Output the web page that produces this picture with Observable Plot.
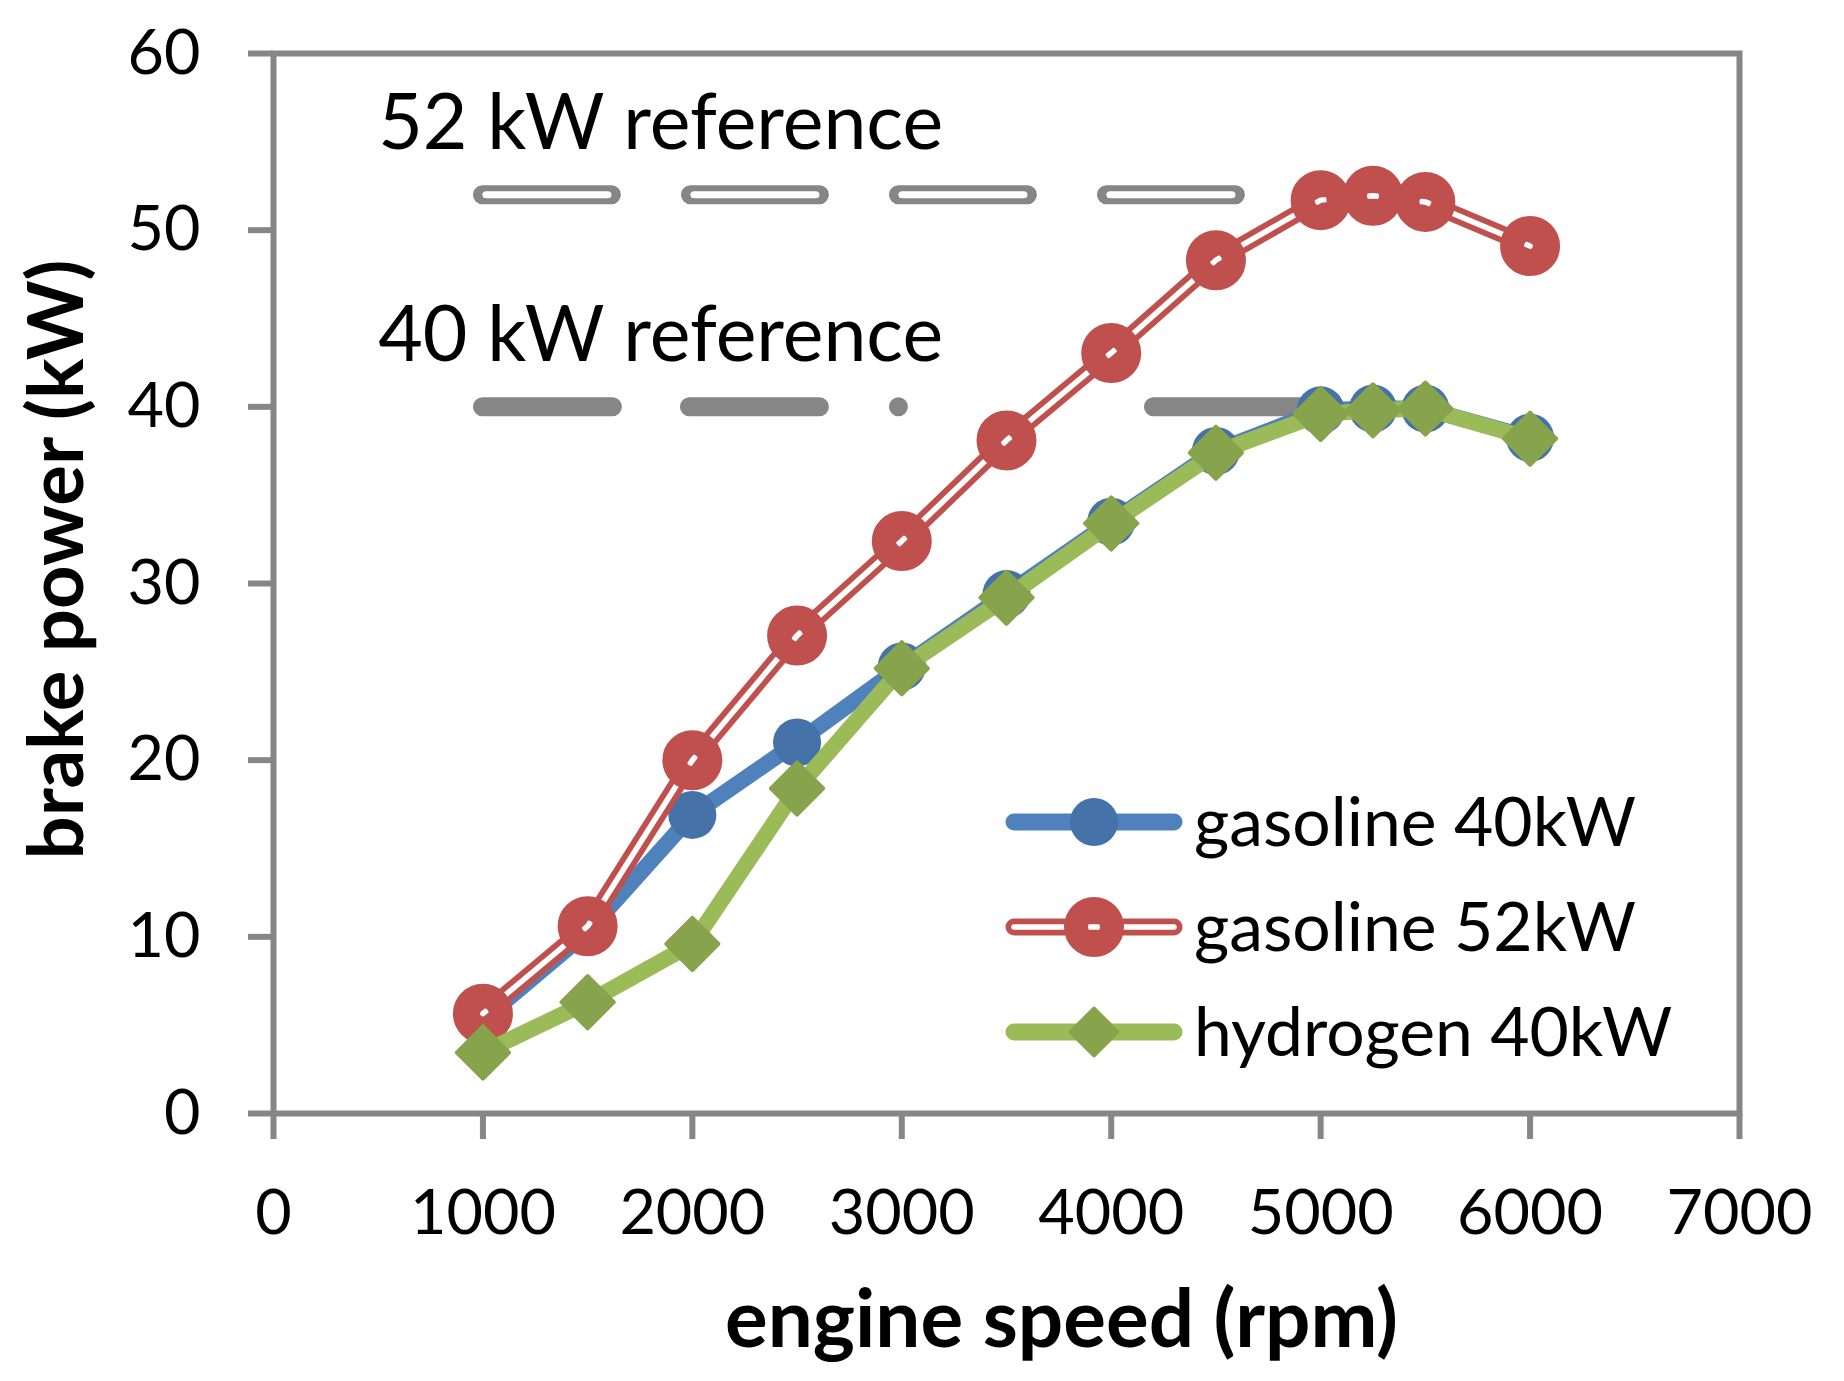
<!DOCTYPE html>
<html>
<head>
<meta charset="utf-8">
<script src="https://cdn.jsdelivr.net/npm/d3@7"></script>
<script src="https://cdn.jsdelivr.net/npm/@observablehq/plot@0.6"></script>
<style>
  html, body { margin: 0; padding: 0; background: #fff; }
  #chart { position: relative; width: 1844px; height: 1381px; }
</style>
</head>
<body>
<div id="chart"></div>
<script>
// ---- data ----
const rpm = [1000, 1500, 2000, 2500, 3000, 3500, 4000, 4500, 5000, 5250, 5500, 6000];
const gasoline40 = [5.3, 10.3, 16.9, 21.0, 25.3, 29.4, 33.5, 37.5, 39.8, 39.9, 39.9, 38.25];
const gasoline52 = [5.65, 10.6, 20.0, 27.05, 32.4, 38.1, 43.05, 48.3, 51.7, 51.95, 51.6, 49.1];
const hydrogen40 = [3.45, 6.3, 9.6, 18.4, 25.2, 29.2, 33.4, 37.4, 39.6, 39.8, 39.9, 38.2];
const seriesNames = ["gasoline 40kW", "gasoline 52kW", "hydrogen 40kW"];
const refLevels = [52, 40];
const refLabels = ["52 kW reference", "40 kW reference"];
const refStart = [1000, 1000];
const refEnd = [5500, 5000];
const xTicks = [0, 1000, 2000, 3000, 4000, 5000, 6000, 7000];
const yTicks = [0, 10, 20, 30, 40, 50, 60];
const xTitle = "engine speed (rpm)";
const yTitle = "brake power (kW)";

// ---- styles ----
const gray = "#868686";
const blue = "#4F81BD", blueMarker = "#4572A9";
const red = "#C0504D";
const green = "#9BBB59", greenMarker = "#87A34C";
const font = "Lato, 'Open Sans', sans-serif";
const labelX = 500, labelOffset = 4;

const table = vals => rpm.map((x, i) => ({x, y: vals[i]}));
const g40 = table(gasoline40), g52 = table(gasoline52), h40 = table(hydrogen40);

const plot = Plot.plot({
  width: 1844,
  height: 1381,
  marginLeft: 273,
  marginRight: 105,
  marginTop: 53,
  marginBottom: 268,
  style: {fontFamily: font, background: "#fff", overflow: "visible", color: "#000"},
  x: {domain: [0, 7000]},
  y: {domain: [0, 60]},
  marks: [
    // reference lines (under the series)
    Plot.ruleY([refLevels[0]], {x1: () => refStart[0], x2: () => refEnd[0], stroke: gray, strokeWidth: 19,
      strokeLinecap: "round", strokeDasharray: "129,79"}),
    Plot.ruleY([refLevels[0]], {x1: () => refStart[0], x2: () => refEnd[0], stroke: "#fff", strokeWidth: 7,
      strokeLinecap: "round", strokeDasharray: "122,86", strokeDashoffset: -3.5}),
    Plot.ruleY([refLevels[1]], {x1: () => refStart[1], x2: () => refEnd[1], stroke: gray, strokeWidth: 19,
      strokeLinecap: "round", strokeDasharray: "130,77,130,79,0,255,160,1000"}),
    // frame & axes
    Plot.frame({stroke: gray, strokeWidth: 6}),
    Plot.axisX({ticks: xTicks, tickSize: 26, tickPadding: 50, stroke: gray, strokeWidth: 6, fill: "#000",
      fontSize: 66, label: null, tickFormat: d3.format("d"), ariaLabel: "x-axis"}),
    Plot.axisY({ticks: yTicks, tickSize: 25, tickPadding: 48, stroke: gray, strokeWidth: 6, fill: "#000",
      fontSize: 66, label: null, tickFormat: d3.format("d"), ariaLabel: "y-axis"}),
    // gasoline 40kW
    Plot.line(g40, {x: "x", y: "y", stroke: blue, strokeWidth: 16, strokeLinejoin: "round", strokeLinecap: "round"}),
    Plot.dot(g40, {x: "x", y: "y", r: 24, fill: blueMarker}),
    // gasoline 52kW (double line)
    Plot.line(g52, {x: "x", y: "y", stroke: red, strokeWidth: 17, strokeLinejoin: "round", strokeLinecap: "round"}),
    Plot.line(g52, {x: "x", y: "y", stroke: "#fff", strokeWidth: 5.5, strokeLinejoin: "round", strokeLinecap: "round"}),
    Plot.dot(g52, {x: "x", y: "y", r: 18, fill: "none", stroke: red, strokeWidth: 24}),
    // hydrogen 40kW
    Plot.line(h40, {x: "x", y: "y", stroke: green, strokeWidth: 16, strokeLinejoin: "round", strokeLinecap: "round"}),
    Plot.dot(h40, {x: "x", y: "y", symbol: "diamond2", r: 23.5, fill: greenMarker, stroke: greenMarker,
      strokeWidth: 4, strokeLinejoin: "round"}),
    // annotations
    Plot.text(refLevels, {x: () => labelX, y: d => d + labelOffset, text: (d, i) => refLabels[i],
      textAnchor: "start", lineAnchor: "middle", fontSize: 77, fill: "#000", ariaLabel: "annotation"}),
    // axis titles
    Plot.text([xTitle], {frameAnchor: "bottom", textAnchor: "middle", lineAnchor: "middle", dx: 55, dy: 208,
      fontSize: 80, fontWeight: "bold", fill: "#000", ariaLabel: "x-title"}),
    Plot.text([yTitle], {frameAnchor: "left", textAnchor: "middle", lineAnchor: "middle", dx: -215, dy: -24,
      rotate: -90, fontSize: 76, fontWeight: "bold", fill: "#000", ariaLabel: "y-title"})
  ]
});

document.getElementById("chart").appendChild(plot);

// ---- legend (inside the plot area) ----
const svg = d3.select(plot);
const leg = svg.append("g").attr("aria-label", "legend").attr("font-family", font).attr("text-anchor", "start");
const rowsY = [822, 927, 1032];
const lx1 = 1014, lx2 = 1174, mx = 1094, tx = 1194;
seriesNames.forEach((name, i) => {
  const y = rowsY[i];
  const g = leg.append("g");
  if (i === 0) {
    g.append("line").attr("x1", lx1).attr("x2", lx2).attr("y1", y).attr("y2", y)
      .attr("stroke", blue).attr("stroke-width", 17).attr("stroke-linecap", "round");
    g.append("circle").attr("cx", mx).attr("cy", y).attr("r", 24).attr("fill", blueMarker);
  } else if (i === 1) {
    g.append("line").attr("x1", lx1).attr("x2", lx2).attr("y1", y).attr("y2", y)
      .attr("stroke", red).attr("stroke-width", 17).attr("stroke-linecap", "round");
    g.append("line").attr("x1", lx1).attr("x2", lx2).attr("y1", y).attr("y2", y)
      .attr("stroke", "#fff").attr("stroke-width", 5.5).attr("stroke-linecap", "round");
    g.append("circle").attr("cx", mx).attr("cy", y).attr("r", 18).attr("fill", "none")
      .attr("stroke", red).attr("stroke-width", 24);
  } else {
    g.append("line").attr("x1", lx1).attr("x2", lx2).attr("y1", y).attr("y2", y)
      .attr("stroke", green).attr("stroke-width", 17).attr("stroke-linecap", "round");
    g.append("path").attr("transform", `translate(${mx},${y})`)
      .attr("d", d3.symbol(d3.symbolDiamond2, Math.PI * 21 * 21)())
      .attr("fill", greenMarker).attr("stroke", greenMarker).attr("stroke-width", 4).attr("stroke-linejoin", "round");
  }
  g.append("text").attr("class", "legend-text").attr("x", tx).attr("y", y + 24)
    .attr("font-size", 67).attr("fill", "#000").text(name);
});

// ---- fit text widths to the reference (after the fonts are available) ----
function fit(nodes, target, sample) {
  nodes = Array.from(nodes);
  if (!nodes.length) return;
  const s = nodes.find(n => n.textContent === sample) || nodes[0];
  const fs = parseFloat(getComputedStyle(s).fontSize);
  const w = s.getComputedTextLength();
  if (!w) return;
  const nf = fs * target / w;
  nodes.forEach(n => n.style.fontSize = nf + "px");
}
const q = sel => plot.querySelectorAll(sel);
function fitAll() {
  fit(q('g[aria-label="x-axis tick label"] text, g[aria-label="y-axis tick label"] text'), 146, "7000");
  fit(q(".legend-text"), 442, "gasoline 40kW");
  fit(q('g[aria-label="annotation"] text'), 560, "52 kW reference");
  fit(q('g[aria-label="x-title"] text'), 665, xTitle);
  fit(q('g[aria-label="y-title"] text'), 618, yTitle);
}
Promise.all([document.fonts.load("70px Lato"), document.fonts.load("bold 70px Lato")])
  .then(() => document.fonts.ready)
  .then(fitAll)
  .catch(() => {});
</script>
</body>
</html>
